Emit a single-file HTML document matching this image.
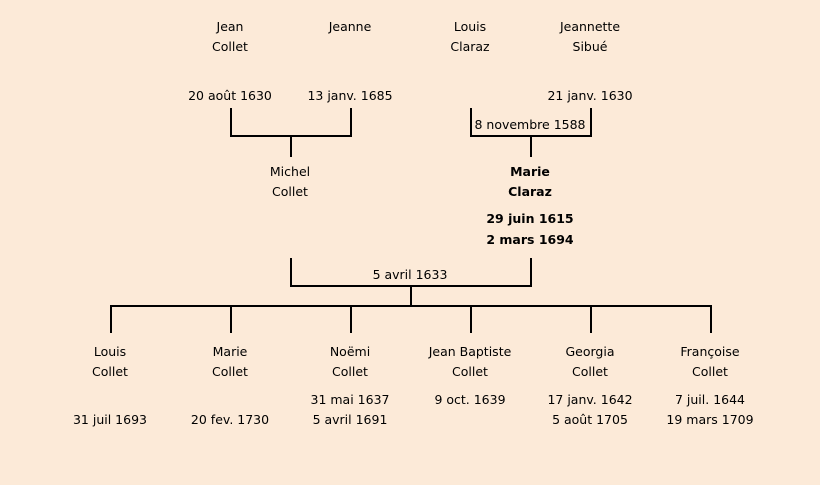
<!DOCTYPE html>
<html><head><meta charset="utf-8"><style>
html,body{margin:0;padding:0}
body{width:820px;height:485px;background:#fcead8;position:relative;overflow:hidden;font-family:"Comic Sans MS","DejaVu Sans",sans-serif;font-size:12.5px;color:#000}
.t{position:absolute;width:160px;margin-left:-80px;text-align:center;line-height:20px;white-space:nowrap;transform:translateY(-10px)}
.b{font-weight:bold}
svg{position:absolute;left:0;top:0}
</style></head><body>
<svg width="820" height="485" stroke="#000" stroke-width="2" fill="none">
<path d="M231 108V136H351V108M291 136V157"/>
<path d="M471 108V136H591V108M531 136V157"/>
<path d="M291 258V286H531V258M411 286V306"/>
<path d="M111 333V306H711V333M231 306V333M351 306V333M471 306V333M591 306V333"/>
</svg>
<div class="t" style="left:230px;top:27px">Jean</div><div class="t" style="left:230px;top:47px">Collet</div>
<div class="t" style="left:350px;top:27px">Jeanne</div>
<div class="t" style="left:470px;top:27px">Louis</div><div class="t" style="left:470px;top:47px">Claraz</div>
<div class="t" style="left:590px;top:27px">Jeannette</div><div class="t" style="left:590px;top:47px">Sibué</div>
<div class="t" style="left:230px;top:96px">20 août 1630</div>
<div class="t" style="left:350px;top:96px">13 janv. 1685</div>
<div class="t" style="left:590px;top:96px">21 janv. 1630</div>
<div class="t" style="left:530px;top:125px">8 novembre 1588</div>
<div class="t" style="left:290px;top:172px">Michel</div><div class="t" style="left:290px;top:192px">Collet</div>
<div class="t b" style="left:530px;top:172px">Marie</div><div class="t b" style="left:530px;top:192px">Claraz</div>
<div class="t b" style="left:530px;top:219px">29 juin 1615</div><div class="t b" style="left:530px;top:240px">2 mars 1694</div>
<div class="t" style="left:410px;top:275px">5 avril 1633</div>
<div class="t" style="left:110px;top:352px">Louis</div><div class="t" style="left:110px;top:372px">Collet</div>
<div class="t" style="left:230px;top:352px">Marie</div><div class="t" style="left:230px;top:372px">Collet</div>
<div class="t" style="left:350px;top:352px">Noëmi</div><div class="t" style="left:350px;top:372px">Collet</div>
<div class="t" style="left:470px;top:352px">Jean Baptiste</div><div class="t" style="left:470px;top:372px">Collet</div>
<div class="t" style="left:590px;top:352px">Georgia</div><div class="t" style="left:590px;top:372px">Collet</div>
<div class="t" style="left:710px;top:352px">Françoise</div><div class="t" style="left:710px;top:372px">Collet</div>
<div class="t" style="left:110px;top:420px">31 juil 1693</div>
<div class="t" style="left:230px;top:420px">20 fev. 1730</div>
<div class="t" style="left:350px;top:400px">31 mai 1637</div><div class="t" style="left:350px;top:420px">5 avril 1691</div>
<div class="t" style="left:470px;top:400px">9 oct. 1639</div>
<div class="t" style="left:590px;top:400px">17 janv. 1642</div><div class="t" style="left:590px;top:420px">5 août 1705</div>
<div class="t" style="left:710px;top:400px">7 juil. 1644</div><div class="t" style="left:710px;top:420px">19 mars 1709</div>
</body></html>
